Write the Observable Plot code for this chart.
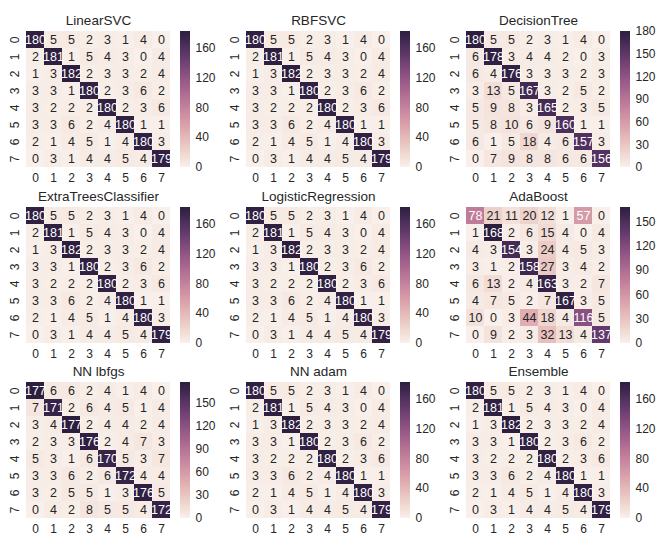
<!DOCTYPE html>
<html><head><meta charset="utf-8">
<script src="https://cdn.jsdelivr.net/npm/d3@7"></script>
<script src="https://cdn.jsdelivr.net/npm/@observablehq/plot@0.6"></script>
<style>
body{margin:0;background:#fff;}
#root{position:relative;width:664px;height:551px;overflow:hidden;font-family:"Liberation Sans",Arial,sans-serif;}
.panel{position:absolute;}
</style></head><body><div id="root"></div>
<script>
const classLabels = ["0","1","2","3","4","5","6","7"];
const modelNames = ["LinearSVC","RBFSVC","DecisionTree","ExtraTreesClassifier","LogisticRegression","AdaBoost","NN lbfgs","NN adam","Ensemble"];

const linearSVC = [
  [180,5,5,2,3,1,4,0],[2,181,1,5,4,3,0,4],[1,3,182,2,3,3,2,4],[3,3,1,180,2,3,6,2],
  [3,2,2,2,180,2,3,6],[3,3,6,2,4,180,1,1],[2,1,4,5,1,4,180,3],[0,3,1,4,4,5,4,179]];
const rbfSVC = [
  [180,5,5,2,3,1,4,0],[2,181,1,5,4,3,0,4],[1,3,182,2,3,3,2,4],[3,3,1,180,2,3,6,2],
  [3,2,2,2,180,2,3,6],[3,3,6,2,4,180,1,1],[2,1,4,5,1,4,180,3],[0,3,1,4,4,5,4,179]];
const decisionTree = [
  [180,5,5,2,3,1,4,0],[6,178,3,4,4,2,0,3],[6,4,176,3,3,3,2,3],[3,13,5,167,3,2,5,2],
  [5,9,8,3,165,2,3,5],[5,8,10,6,9,160,1,1],[6,1,5,18,4,6,157,3],[0,7,9,8,8,6,6,156]];
const extraTrees = [
  [180,5,5,2,3,1,4,0],[2,181,1,5,4,3,0,4],[1,3,182,2,3,3,2,4],[3,3,1,180,2,3,6,2],
  [3,2,2,2,180,2,3,6],[3,3,6,2,4,180,1,1],[2,1,4,5,1,4,180,3],[0,3,1,4,4,5,4,179]];
const logisticRegression = [
  [180,5,5,2,3,1,4,0],[2,181,1,5,4,3,0,4],[1,3,182,2,3,3,2,4],[3,3,1,180,2,3,6,2],
  [3,2,2,2,180,2,3,6],[3,3,6,2,4,180,1,1],[2,1,4,5,1,4,180,3],[0,3,1,4,4,5,4,179]];
const adaBoost = [
  [78,21,11,20,12,1,57,0],[1,168,2,6,15,4,0,4],[4,3,154,3,24,4,5,3],[3,1,2,158,27,3,4,2],
  [6,13,2,4,163,3,2,7],[4,7,5,2,7,167,3,5],[10,0,3,44,18,4,116,5],[0,9,2,3,32,13,4,137]];
const nnLbfgs = [
  [177,6,6,2,4,1,4,0],[7,171,2,6,4,5,1,4],[3,4,177,2,4,4,2,4],[2,3,3,176,2,4,7,3],
  [5,3,1,6,170,5,3,7],[3,3,6,2,6,172,4,4],[3,2,5,5,1,3,176,5],[0,4,2,8,5,5,4,172]];
const nnAdam = [
  [180,5,5,2,3,1,4,0],[2,181,1,5,4,3,0,4],[1,3,182,2,3,3,2,4],[3,3,1,180,2,3,6,2],
  [3,2,2,2,180,2,3,6],[3,3,6,2,4,180,1,1],[2,1,4,5,1,4,180,3],[0,3,1,4,4,5,4,179]];
const ensemble = [
  [180,5,5,2,3,1,4,0],[2,181,1,5,4,3,0,4],[1,3,182,2,3,3,2,4],[3,3,1,180,2,3,6,2],
  [3,2,2,2,180,2,3,6],[3,3,6,2,4,180,1,1],[2,1,4,5,1,4,180,3],[0,3,1,4,4,5,4,179]];

const ticks40 = [0,40,80,120,160];
const ticks30to180 = [0,30,60,90,120,150,180];
const ticks30to150 = [0,30,60,90,120,150];

const matrices = [linearSVC, rbfSVC, decisionTree, extraTrees, logisticRegression, adaBoost, nnLbfgs, nnAdam, ensemble];
const panelTicks = [ticks40, ticks40, ticks30to180, ticks40, ticks40, ticks30to150, ticks30to150, ticks40, ticks40];

// layout
const colLeft = [0, 220, 440];
const rowHeatTop = [31, 207, 382];
const heatW = 148, heatH = 136, mLeft = 24, mTop = 31, mBottom = 24;
const cbOffset = 180, cbW = 10, cbPad = 8;
const FONT = '"Liberation Sans", Arial, sans-serif';
const INK = "#262626";

// seaborn default cubehelix palette (start=0, rot=.4, hue=.8, dark=.15)
function cubehelixSeaborn(t) {
  const light = 0.95, dark = 0.15;
  const x = light + (dark - light) * t;
  const a = 0.8 * x * (1 - x) / 2;
  const phi = 2 * Math.PI * (0.4 * x);
  const c = Math.cos(phi), s = Math.sin(phi);
  const cl = v => Math.max(0, Math.min(1, v));
  const r = cl(x + a * (-0.14861 * c + 1.78277 * s));
  const g = cl(x + a * (-0.29227 * c - 0.90649 * s));
  const b = cl(x + a * (1.97294 * c));
  return d3.rgb(r * 255, g * 255, b * 255).formatHex();
}
function luminance(hex) {
  const c = d3.rgb(hex);
  const lin = v => { v /= 255; return v <= 0.03928 ? v / 12.92 : Math.pow((v + 0.055) / 1.055, 2.4); };
  return 0.2126 * lin(c.r) + 0.7152 * lin(c.g) + 0.0722 * lin(c.b);
}

const root = document.getElementById("root");

matrices.forEach((matrix, k) => {
  const col = k % 3, row = Math.floor(k / 3);
  const cells = [];
  matrix.forEach((r, i) => r.forEach((v, j) => cells.push({pred: classLabels[j], actual: classLabels[i], value: v})));
  const vmin = d3.min(cells, d => d.value), vmax = d3.max(cells, d => d.value);
  const isDark = d => luminance(cubehelixSeaborn((d.value - vmin) / (vmax - vmin))) <= 0.408;
  const colorOpts = {type: "linear", domain: [vmin, vmax], interpolate: cubehelixSeaborn};

  const heat = Plot.plot({
    width: mLeft + heatW, height: mTop + heatH + mBottom,
    marginLeft: mLeft, marginRight: 0, marginTop: mTop, marginBottom: mBottom,
    style: {fontFamily: FONT, fontSize: "12px", color: INK, background: "transparent", overflow: "visible"},
    x: {domain: classLabels, padding: 0},
    y: {domain: classLabels, padding: 0},
    color: colorOpts,
    marks: [
      Plot.cell(cells, {x: "pred", y: "actual", fill: "value", inset: 0, shapeRendering: "crispEdges"}),
      Plot.text(cells, {filter: d => !isDark(d), x: "pred", y: "actual", text: d => String(d.value), fill: INK, fontSize: 12.5}),
      Plot.text(cells, {filter: isDark, x: "pred", y: "actual", text: d => String(d.value), fill: "white", fontSize: 12.5}),
      Plot.axisX({tickSize: 0, tickPadding: 6, label: null, fontSize: 12}),
      Plot.axisY({tickSize: 0, tickPadding: 6, tickRotate: -90, label: null, fontSize: 12}),
      Plot.text([modelNames[k]], {frameAnchor: "top", dy: -11, lineAnchor: "middle", fontSize: 13.5, fill: INK})
    ]
  });
  const hd = document.createElement("div");
  hd.className = "panel";
  hd.style.left = colLeft[col] + "px";
  hd.style.top = (rowHeatTop[row] - mTop) + "px";
  hd.appendChild(heat);
  root.appendChild(hd);

  const N = 160;
  const slices = d3.range(N);
  const cb = Plot.plot({
    width: cbW + 34, height: heatH + 2 * cbPad,
    marginLeft: 0, marginRight: 34, marginTop: cbPad, marginBottom: cbPad,
    style: {fontFamily: FONT, fontSize: "12px", color: INK, background: "transparent", overflow: "visible"},
    x: {domain: [0, 1], axis: null},
    y: {domain: [vmin, vmax]},
    color: colorOpts,
    marks: [
      Plot.rect(slices, {x1: 0, x2: 1,
        y1: i => vmin + (vmax - vmin) * i / N,
        y2: i => vmin + (vmax - vmin) * (i + 1) / N,
        fill: i => vmin + (vmax - vmin) * (i + 0.5) / N,
        inset: 0, shapeRendering: "crispEdges"}),
      Plot.axisY(panelTicks[k], {anchor: "right", tickSize: 0, tickPadding: 5, label: null, fontSize: 12})
    ]
  });
  const cd = document.createElement("div");
  cd.className = "panel";
  cd.style.left = (colLeft[col] + cbOffset) + "px";
  cd.style.top = (rowHeatTop[row] - cbPad) + "px";
  cd.appendChild(cb);
  root.appendChild(cd);
});
</script></body></html>
